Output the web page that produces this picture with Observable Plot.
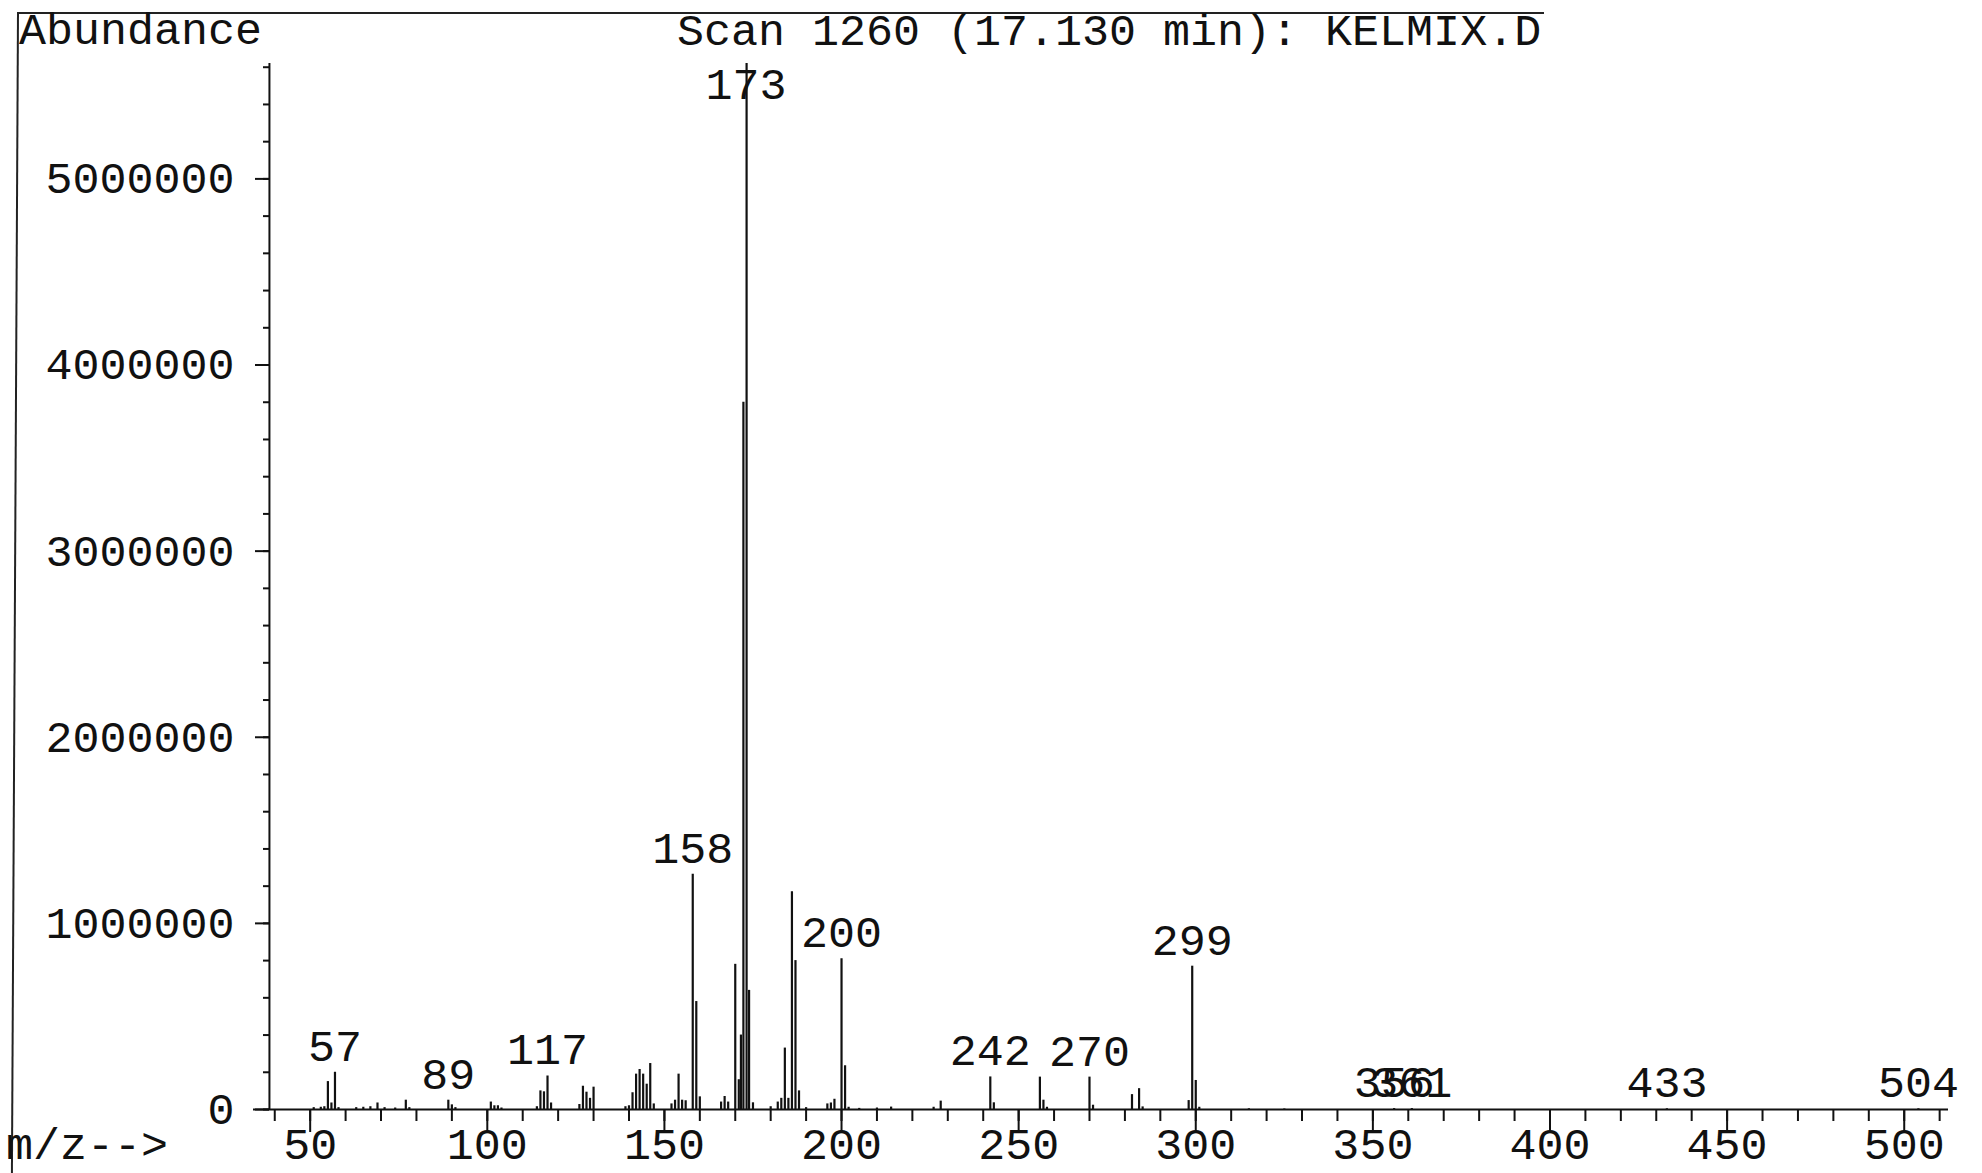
<!DOCTYPE html>
<html>
<head>
<meta charset="utf-8">
<script src="https://cdn.jsdelivr.net/npm/d3@7"></script>
<script src="https://cdn.jsdelivr.net/npm/@observablehq/plot@0.6"></script>
<style>
  html, body { margin: 0; padding: 0; background: #fff; }
  #wrap { position: relative; width: 1982px; height: 1173px; overflow: hidden; background: #fff; }
  #wrap svg { position: absolute; left: 0; top: 0; }
  .frame { position: absolute; left: 17px; top: 12px; width: 1525px; height: 1200px;
           border-top: 2px solid #222; border-left: 2px solid #222;
           transform: skewX(-0.3deg); transform-origin: 0 0; }
  .txt { position: absolute; font-family: 'Liberation Mono', 'DejaVu Sans Mono', monospace;
         font-size: 45px; line-height: 36px; color: #111; white-space: pre; }
</style>
</head>
<body>
<div id="wrap"></div>
<script>
// ---- data ----
const mz = [
  51, 53, 54, 55, 56, 57, 58, 63, 65, 67, 69, 71, 74, 77, 78,
  89, 90, 91, 101, 102, 103, 104, 114, 115, 116, 117, 118,
  126, 127, 128, 129, 130, 139, 140, 141, 142, 143, 144, 145, 146, 147,
  152, 153, 154, 155, 156, 158, 159, 160, 166, 167, 168,
  170, 171, 171.6, 172.3, 173.2, 173.9, 175,
  180, 182, 183, 184, 185, 186, 187, 188, 190,
  196, 197, 198, 200, 201, 202, 205, 210, 214, 226, 228,
  242, 243, 256, 257, 258, 270, 271, 282, 284, 285,
  298, 299, 300, 301, 315, 325, 356, 361, 433, 504
];
const abundance = [
  10000, 12000, 15000, 150000, 35000, 200000, 10000, 10000, 12000, 15000, 35000, 10000, 8000, 50000, 10000,
  50000, 25000, 10000, 40000, 20000, 20000, 8000, 15000, 100000, 95000, 180000, 35000,
  27000, 125000, 93000, 60000, 120000, 15000, 20000, 90000, 190000, 215000, 190000, 136000, 247000, 30000,
  30000, 50000, 190000, 50000, 47000, 1264000, 580000, 68000, 40000, 70000, 40000,
  780000, 160000, 400000, 3800000, 5620000, 640000, 36000,
  15000, 40000, 60000, 330000, 60000, 1170000, 800000, 100000, 10000,
  30000, 35000, 55000, 810000, 235000, 12000, 6000, 8000, 13000, 12000, 45000,
  175000, 36000, 174000, 50000, 12000, 174000, 23000, 80000, 112000, 14000,
  48000, 770000, 156000, 12000, 4000, 3000, 5000, 5000, 4000, 4000
];
const labelMz = [57, 89, 117, 158, 173, 200, 242, 270, 299, 356, 361, 433, 504];
const yMajorTicks = [0, 1000000, 2000000, 3000000, 4000000, 5000000];
const yMinorTicks = d3.range(0, 5600001, 200000);
const xMajorTicks = [50, 100, 150, 200, 250, 300, 350, 400, 450, 500];
const xMinorTicks = d3.range(40, 511, 10);
const titleText = "Scan 1260 (17.130 min): KELMIX.D";

// ---- build ----
const peaks = mz.map((m, i) => ({mz: m, ab: abundance[i]}));
const nearest = (m) => {
  let best = peaks[0];
  for (const p of peaks) if (Math.abs(p.mz - m) < Math.abs(best.mz - m)) best = p;
  return best.ab;
};
const yMax = 5620000;
const labelTop = yMax - 255000;
const font = "'Liberation Mono', 'DejaVu Sans Mono', monospace";
const ink = "#111";

const chart = Plot.plot({
  width: 1982,
  height: 1173,
  marginLeft: 253,
  marginRight: 34,
  marginTop: 63,
  marginBottom: 64,
  x: {domain: [34, 512.5]},
  y: {domain: [0, yMax]},
  style: {fontFamily: font, fontSize: "45px", color: ink, background: "transparent"},
  marks: [
    Plot.axisX(xMinorTicks, {anchor: "bottom", tickSize: 12, strokeWidth: 2, stroke: ink, tickFormat: () => "", label: null}),
    Plot.axisX(xMajorTicks, {anchor: "bottom", tickSize: 23, tickPadding: -5, strokeWidth: 2, stroke: ink,
      fontSize: 45, fontFamily: font, fill: ink, tickFormat: d => String(d), label: null}),
    Plot.axisY(yMinorTicks, {anchor: "left", dx: 16, tickSize: 6, strokeWidth: 2, stroke: ink, tickFormat: () => "", label: null}),
    Plot.axisY(yMajorTicks, {anchor: "left", dx: 16, tickSize: 14, tickPadding: 21, strokeWidth: 2, stroke: ink,
      fontSize: 45, fontFamily: font, fill: ink, tickFormat: d => String(d), label: null}),
    Plot.ruleX([38.5], {stroke: ink, strokeWidth: 2}),
    Plot.ruleY([0], {stroke: ink, strokeWidth: 2}),
    Plot.ruleX(peaks, {x: "mz", y1: 0, y2: "ab", stroke: ink, strokeWidth: 2.2}),
    Plot.text(labelMz, {
      x: d => d,
      y: d => Math.min(nearest(d), labelTop),
      text: d => String(d),
      dy: -26,
      fontSize: 45,
      fontFamily: font,
      fill: ink
    })
  ]
});

const wrap = document.getElementById("wrap");
wrap.appendChild(chart);

const frame = document.createElement("div");
frame.className = "frame";
wrap.appendChild(frame);

function addText(str, left, baseline) {
  const el = document.createElement("div");
  el.className = "txt";
  el.textContent = str;
  el.style.left = left + "px";
  el.style.top = (baseline - 30) + "px";
  wrap.appendChild(el);
}
addText("Abundance", 19, 45);
addText(titleText, 677, 46);
addText("m/z-->", 6, 1160);
</script>
</body>
</html>
